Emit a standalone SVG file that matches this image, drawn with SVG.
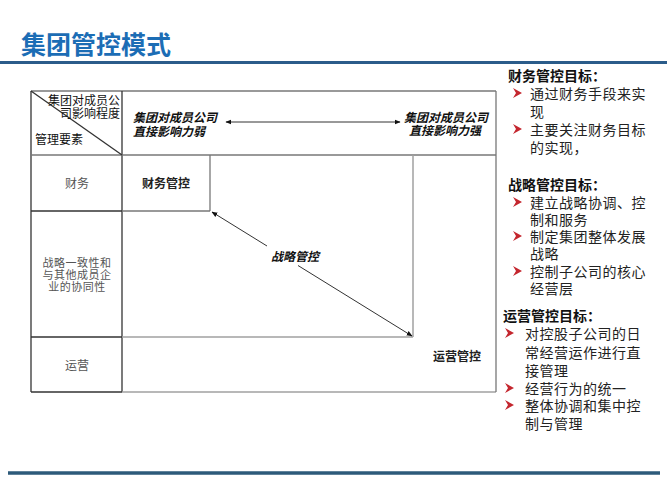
<svg xmlns="http://www.w3.org/2000/svg" width="667" height="500" viewBox="0 0 667 500">
<defs>
<style>
.t{font-family:"Noto Sans CJK SC","Liberation Sans",sans-serif;dominant-baseline:central}
.s12{font-size:12px}
.s11{font-size:11px}
.gray{fill:#555}
.it{font-style:italic;font-weight:bold;fill:#111}
.hd{font-size:14px;font-weight:bold;fill:#111}
.bt{font-size:14px;fill:#222;letter-spacing:0.5px}
.dk{stroke:#333;stroke-width:1.3;fill:none}
.md{stroke:#777;stroke-width:1.3;fill:none}
.lt{stroke:#a0a0a0;stroke-width:1.5;fill:none}
.arr{stroke:#333;stroke-width:1;fill:none}
</style>
<marker id="ah" viewBox="0 0 10 10" refX="9" refY="5" markerWidth="6" markerHeight="6" orient="auto-start-reverse" markerUnits="userSpaceOnUse">
<path d="M0,1 L10,5 L0,9 Z" fill="#111"/>
</marker>
<path id="bul" d="M0,-5 L9,0 L0,5 L3,0 Z" fill="#c4262e"/>
</defs>
<rect width="667" height="500" fill="#fff"/>
<g id="title">
<text class="t" x="21" y="43" font-size="25" font-weight="bold" fill="#1c6db5">集团管控模式</text>
<line x1="0" y1="62.5" x2="667" y2="62.5" stroke="#2b5c8a" stroke-width="3"/>
</g>
<g id="table">
<line class="md" x1="31" y1="91" x2="496" y2="91"/>
<line class="dk" x1="31" y1="91" x2="31" y2="392"/>
<line class="dk" x1="122" y1="91" x2="122" y2="392"/>
<line class="md" x1="31" y1="155" x2="496" y2="155"/>
<line class="dk" x1="31" y1="211" x2="122" y2="211"/>
<line class="dk" x1="31" y1="337" x2="122" y2="337"/>
<line class="dk" x1="31" y1="392" x2="122" y2="392"/>
<line class="lt" x1="122" y1="392" x2="496" y2="392"/>
<line class="md" x1="496" y1="91" x2="496" y2="392"/>
<line class="dk" x1="31" y1="91" x2="122" y2="155"/>
</g>
<g id="header-cell">
<text class="t s12" text-anchor="end" fill="#111"><tspan x="120" y="98.5">集团对成员公</tspan><tspan x="120" y="111.5">司影响程度</tspan></text>
<text class="t s12" x="35" y="138" fill="#111">管理要素</text>
</g>
<g id="row-finance">
<text class="t s12 gray" x="77" y="182" text-anchor="middle">财务</text>
</g>
<g id="row-strategy">
<text class="t s11 gray" text-anchor="middle" letter-spacing="0.5"><tspan x="77" y="261.5">战略一致性和</tspan><tspan x="77" y="273.5">与其他成员企</tspan><tspan x="77" y="285.5">业的协同性</tspan></text>
</g>
<g id="row-ops">
<text class="t s12 gray" x="77" y="364" text-anchor="middle">运营</text>
</g>
<g id="weak">
<text class="t s12 it"><tspan x="133" y="116">集团对成员公司</tspan><tspan x="133" y="130">直接影响力弱</tspan></text>
</g>
<g id="strong">
<text class="t s12 it" text-anchor="end"><tspan x="488" y="116">集团对成员公司</tspan><tspan x="481" y="129">直接影响力强</tspan></text>
</g>
<g id="finance-ctrl">
<line class="md" x1="122" y1="211" x2="210" y2="211"/>
<line class="md" x1="210" y1="155" x2="210" y2="211"/>
<text class="t s12" x="166" y="182" text-anchor="middle" font-weight="bold" fill="#222">财务管控</text>
</g>
<g id="strategy-ctrl">
<line class="lt" x1="413" y1="155" x2="413" y2="337"/>
<line class="lt" x1="122" y1="337" x2="413" y2="337"/>
<text class="t s12 it" x="295" y="255" text-anchor="middle">战略管控</text>
</g>
<g id="ops-ctrl">
<text class="t s12" x="457" y="355" text-anchor="middle" font-weight="bold" fill="#222">运营管控</text>
</g>
<g id="connectors">
<line class="arr" x1="226" y1="122" x2="400" y2="122" marker-start="url(#ah)" marker-end="url(#ah)"/>
<line class="arr" x1="212" y1="212" x2="267" y2="246" marker-start="url(#ah)"/>
<line class="arr" x1="298" y1="265.5" x2="412" y2="336" marker-end="url(#ah)"/>
</g>
<g id="panel-finance">
<text class="t hd" x="508" y="75">财务管控目标：</text>
<use href="#bul" x="513" y="93"/>
<text class="t bt"><tspan x="530" y="93">通过财务手段来实</tspan><tspan x="530" y="111">现</tspan></text>
<use href="#bul" x="513" y="129"/>
<text class="t bt"><tspan x="530" y="129">主要关注财务目标</tspan><tspan x="530" y="147">的实现，</tspan></text>
</g>
<g id="panel-strategy">
<text class="t hd" x="508" y="184">战略管控目标：</text>
<use href="#bul" x="513" y="202"/>
<text class="t bt"><tspan x="530" y="202">建立战略协调、控</tspan><tspan x="530" y="219">制和服务</tspan></text>
<use href="#bul" x="513" y="236"/>
<text class="t bt"><tspan x="530" y="236">制定集团整体发展</tspan><tspan x="530" y="253">战略</tspan></text>
<use href="#bul" x="513" y="271"/>
<text class="t bt"><tspan x="530" y="271">控制子公司的核心</tspan><tspan x="530" y="288">经营层</tspan></text>
</g>
<g id="panel-ops">
<text class="t hd" x="503" y="315">运营管控目标：</text>
<use href="#bul" x="505" y="333"/>
<text class="t bt"><tspan x="525" y="333">对控股子公司的日</tspan><tspan x="525" y="352">常经营运作进行直</tspan><tspan x="525" y="370">接管理</tspan></text>
<use href="#bul" x="505" y="388"/>
<text class="t bt" x="525" y="388">经营行为的统一</text>
<use href="#bul" x="505" y="405"/>
<text class="t bt"><tspan x="525" y="405">整体协调和集中控</tspan><tspan x="525" y="423">制与管理</tspan></text>
</g>
<g id="footer">
<line x1="8" y1="473" x2="660" y2="473" stroke="#2d5a7a" stroke-width="3.5"/>
</g>
</svg>
